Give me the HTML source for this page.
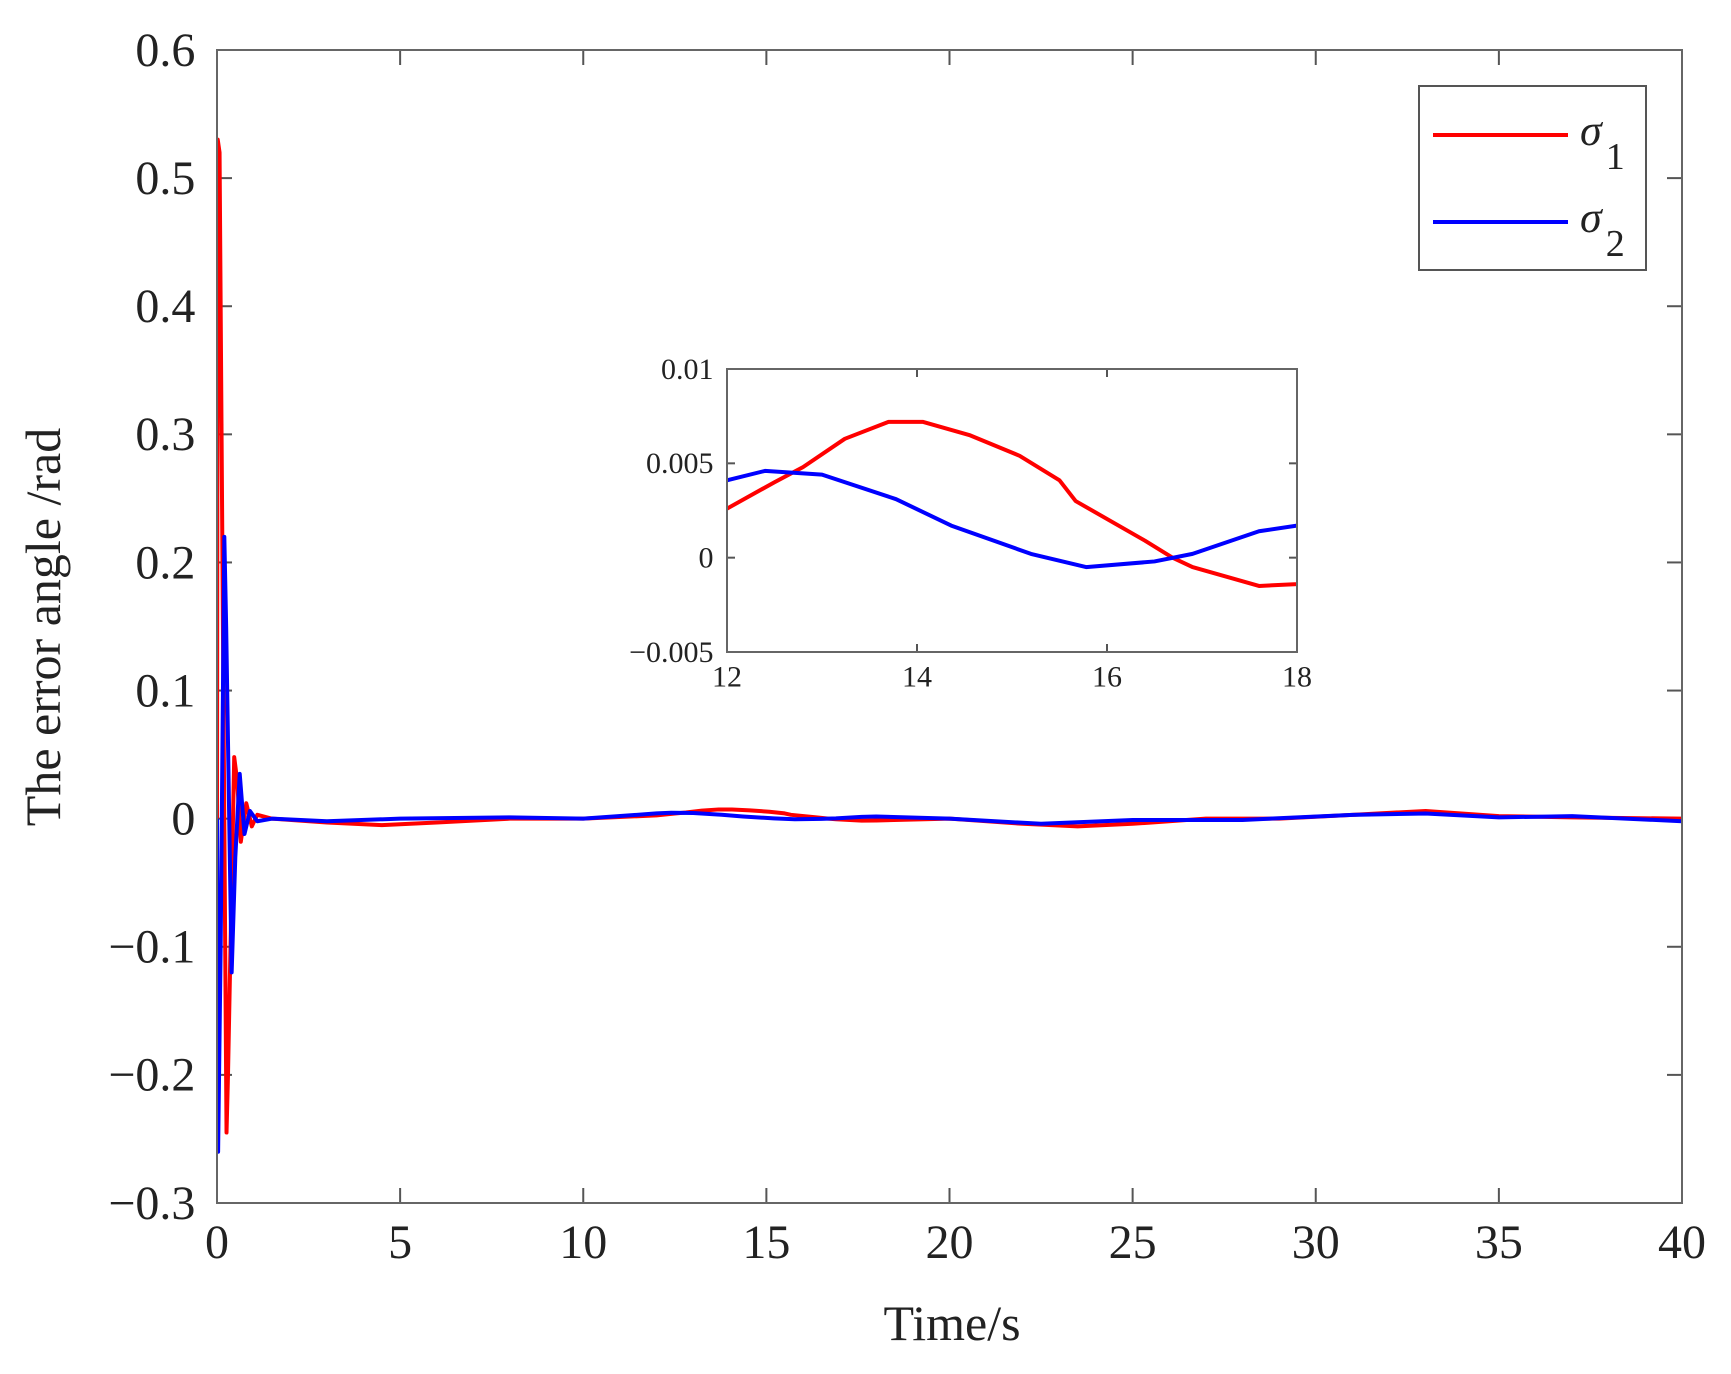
<!DOCTYPE html>
<html><head><meta charset="utf-8">
<style>
html,body{margin:0;padding:0;background:#fff;width:1731px;height:1374px;overflow:hidden;}
svg{display:block;font-family:"Liberation Serif",serif;}
</style></head>
<body>
<svg id="chart" width="1731" height="1374" viewBox="0 0 1731 1374" xmlns="http://www.w3.org/2000/svg">
<defs>
<clipPath id="mainClip"><rect x="217" y="50" width="1465" height="1153"/></clipPath>
<clipPath id="insetClip"><rect x="727" y="369" width="570" height="283"/></clipPath>
</defs>
<rect x="0" y="0" width="1731" height="1374" fill="#fff"/>
<g id="main"></g>
<g id="inset"></g>
<g>
<rect x="1419" y="86" width="227" height="184" fill="#fff" stroke="#555" stroke-width="2"/>
<line x1="1433" y1="135" x2="1568" y2="135" stroke="#ff0000" stroke-width="4"/>
<text x="1580" y="145" font-size="44" font-style="italic" fill="#222">σ<tspan font-size="38" font-style="normal" dx="4" dy="24">1</tspan></text>
<line x1="1433" y1="222" x2="1568" y2="222" stroke="#0000ff" stroke-width="4"/>
<text x="1580" y="232" font-size="44" font-style="italic" fill="#222">σ<tspan font-size="38" font-style="normal" dx="4" dy="24">2</tspan></text>
</g>
<text x="952" y="1340" font-size="50" text-anchor="middle" fill="#222">Time/s</text>
<text transform="translate(60,627) rotate(-90)" font-size="50" text-anchor="middle" fill="#222">The error angle /rad</text>
</svg>
<script>
const sigma1Times=[0,0.02,0.07,0.26,0.3,0.47,0.55,0.65,0.8,0.95,1.1,1.5,3,4.5,6,8,10,12,12.5,12.8,13.24,13.7,14.06,14.55,15.08,15.5,15.67,16.4,16.69,16.9,17.6,18,20,22,23.5,25,27,29,31,33,35,37,40];
const sigma1Values=[0,0.53,0.52,-0.245,-0.2,0.048,0.03,-0.018,0.012,-0.006,0.003,0,-0.003,-0.005,-0.003,0,0,0.0026,0.004,0.0048,0.0063,0.0072,0.0072,0.0065,0.0054,0.0041,0.003,0.0009,0,-0.0005,-0.0015,-0.0014,0,-0.004,-0.006,-0.004,0,0,0.003,0.006,0.002,0.001,0];
const sigma2Times=[0,0.03,0.1,0.2,0.25,0.4,0.5,0.62,0.75,0.9,1.1,1.5,3,5,8,10,12,12.4,13,13.78,14.36,15.2,15.78,16.5,16.9,17.6,18,20,22.5,25,28,31,33,35,37,40];
const sigma2Values=[0,-0.26,-0.1,0.22,0.15,-0.12,-0.03,0.035,-0.012,0.006,-0.002,0,-0.002,0,0.001,0,0.0041,0.0046,0.0044,0.0031,0.0017,0.0002,-0.0005,-0.0002,0.0002,0.0014,0.0017,0,-0.004,-0.001,-0.001,0.003,0.004,0.001,0.002,-0.002];
const mainXTicks=[0,5,10,15,20,25,30,35,40];
const mainYTicks=[-0.3,-0.2,-0.1,0,0.1,0.2,0.3,0.4,0.5,0.6];
const mainYLabels=["\u22120.3","\u22120.2","\u22120.1","0","0.1","0.2","0.3","0.4","0.5","0.6"];
const insetXTicks=[12,14,16,18];
const insetYTicks=[-0.005,0,0.005,0.01];
const insetYLabels=["\u22120.005","0","0.005","0.01"];

const NS="http://www.w3.org/2000/svg";
function mk(tag,attrs,parent){const e=document.createElementNS(NS,tag);for(const k in attrs)e.setAttribute(k,attrs[k]);parent.appendChild(e);return e;}

function drawAxes(g,box,xd,yd,xt,yt,ylabels,fs,tickLen,clipId,lw,prefix){
  const sx=v=>box.x+(v-xd[0])/(xd[1]-xd[0])*box.w;
  const sy=v=>box.y+box.h-(v-yd[0])/(yd[1]-yd[0])*box.h;
  const frame=mk('rect',{x:box.x,y:box.y,width:box.w,height:box.h,fill:'#fff',stroke:'#666','stroke-width':2},g);
  
  
  xt.forEach(v=>{
    const X=sx(v);
    const t1=mk('line',{x1:X,y1:box.y+box.h,x2:X,y2:box.y+box.h-tickLen,stroke:'#555','stroke-width':2},g);
    
    
    mk('line',{x1:X,y1:box.y,x2:X,y2:box.y+tickLen,stroke:'#555','stroke-width':2},g);
    const tx=mk('text',{x:X,y:box.y+box.h+fs*1.15,'font-size':fs,'text-anchor':'middle',fill:'#222'},g);
    tx.textContent=String(v);
    
    
  });
  yt.forEach((v,i)=>{
    const Y=sy(v);
    const t1=mk('line',{x1:box.x,y1:Y,x2:box.x+tickLen,y2:Y,stroke:'#555','stroke-width':2},g);
    
    
    mk('line',{x1:box.x+box.w,y1:Y,x2:box.x+box.w-tickLen,y2:Y,stroke:'#555','stroke-width':2},g);
    const tx=mk('text',{x:box.x-fs*0.45,y:Y+fs*0.33,'font-size':fs,'text-anchor':'end',fill:'#222'},g);
    tx.textContent=ylabels[i];
    
    
  });
  const series=[[sigma1Times,sigma1Values,'#ff0000','sigma1'],[sigma2Times,sigma2Values,'#0000ff','sigma2']];
  series.forEach(s=>{
    let d='';
    s[0].forEach((t,i)=>{d+=(i?'L':'M')+sx(t).toFixed(2)+','+sy(s[1][i]).toFixed(2);});
    const p=mk('path',{d:d,fill:'none',stroke:s[2],'stroke-width':lw,'stroke-linejoin':'round','clip-path':'url(#'+clipId+')'},g);
    
    
  });
  mk('rect',{x:box.x,y:box.y,width:box.w,height:box.h,fill:'none',stroke:'#666','stroke-width':2},g);
}
drawAxes(document.getElementById('main'),{x:217,y:50,w:1465,h:1153},[0,40],[-0.3,0.6],mainXTicks,mainYTicks,mainYLabels,48,15,'mainClip',4,'main');
drawAxes(document.getElementById('inset'),{x:727,y:369,w:570,h:283},[12,18],[-0.005,0.01],insetXTicks,insetYTicks,insetYLabels,30,8,'insetClip',4,'inset');
</script>
</body></html>
